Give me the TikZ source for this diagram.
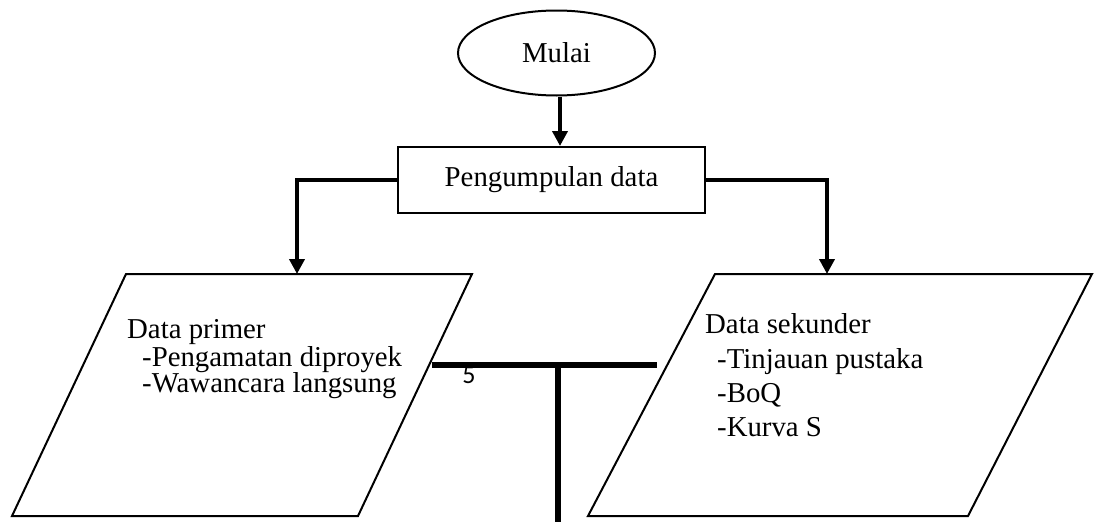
\documentclass[tikz,border=0pt]{standalone}
\usepackage{fontspec}
\setmainfont{Liberation Serif}
\newfontfamily\carlito{Carlito}
\usetikzlibrary{arrows.meta,shapes.geometric}
\begin{document}
\begin{tikzpicture}[x=1pt,y=-1pt,
  txt/.style={font=\fontsize{28.8}{34}\selectfont, inner sep=0pt},
  conn/.style={line width=4.5pt, -{Triangle[width=15pt,length=15pt]}},
  shapeline/.style={line width=2pt, line join=miter},
  item/.style={txt, anchor=base west},
  tline/.style={line width=6pt}]
\useasboundingbox (0,0) rectangle (1096,522);
% nodes
\node[draw, ellipse, line width=2pt, minimum width=197pt, minimum height=85pt, inner sep=0pt, txt] (mulai) at (556.5,53) {Mulai};
\node[draw, rectangle, line width=2pt, minimum width=307pt, minimum height=66pt, inner sep=0pt, txt] (kumpul) at (551.5,180) {Pengumpulan data};
% parallelograms
\draw[shapeline] (126,274) -- (472,274) -- (358,516) -- (12,516) -- cycle;
\draw[shapeline] (715,274) -- (1092,274) -- (968,516) -- (588,516) -- cycle;
\coordinate (primtop) at (297,274);
\coordinate (sektop) at (827,274);
% texts
\node[item] (p1) at (127,338) {Data primer};
\node[item] (p2) at (142,366) {-Pengamatan diproyek};
\node[item] (p3) at (142,392) {-Wawancara langsung};
\node[item] (s1) at (705,333) {Data sekunder};
\node[item] (s2) at (717,368) {-Tinjauan pustaka};
\node[item] (s3) at (717,402) {-BoQ};
\node[item] (s4) at (717,436) {-Kurva S};
% connectors
\draw[conn] ([xshift=3.5pt]mulai.south) -- ([xshift=8.5pt]kumpul.north);
\draw[conn] (kumpul.west) -| (primtop);
\draw[conn] (kumpul.east) -| (sektop);
% T connector
\coordinate (tl) at (432,365);
\coordinate (tr) at (657,365);
\coordinate (tj) at (558,365);
\coordinate (tb) at (558,522);
\node[font=\carlito\fontsize{26}{30}\selectfont, inner sep=0pt] (five) at (469,375) {5};
\draw[tline] (tl) -- (tr);
\draw[tline] (tj) -- (tb);
\end{tikzpicture}
\end{document}
